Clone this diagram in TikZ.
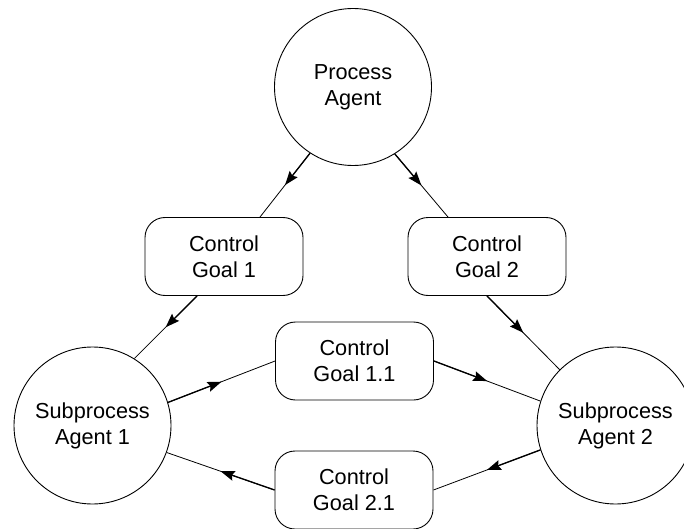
\documentclass[tikz,border=0pt]{standalone}
\usepackage{fontspec}
\setmainfont{Liberation Sans}
\usetikzlibrary{arrows.meta}
\begin{document}
\begin{tikzpicture}[x=1pt,y=-1pt,
  every node/.style={font=\fontsize{21.7}{26}\selectfont, align=center, text=black},
  agent/.style={draw, circle, line width=0.9pt, minimum size=157pt, inner sep=0pt},
  goal/.style={draw, rounded corners=20pt, line width=0.9pt, minimum width=158pt, minimum height=78pt, inner sep=0pt},
  thinlink/.style={draw, line width=0.8pt},
  headlink/.style={draw, line width=1.3pt, -{Stealth[length=14pt,width=10pt,inset=2pt]}}
]
\useasboundingbox (0,0) rectangle (684,529);

% agents
\node[agent] (pa)  at (353,87)    {Process\\Agent};
\node[agent] (sa1) at (92.5,425.5) {Subprocess\\Agent 1};
\node[agent] (sa2) at (615.5,425.5) {Subprocess\\Agent 2};

% control goals
\node[goal] (g1)  at (224,256.5) {Control\\Goal 1};
\node[goal] (g2)  at (487,256.5) {Control\\Goal 2};
\node[goal] (g11) at (354.5,361) {Control\\Goal 1.1};
\node[goal] (g21) at (354,490)   {Control\\Goal 2.1};

% connectors: thin line end to end, heavier first half carrying the arrow head
\draw[thinlink] (pa.237) -- coordinate (m1) ([xshift=36pt]g1.north);
\draw[headlink] (pa.237) -- (m1);

\draw[thinlink] (pa.302.5) -- coordinate (m2) ([xshift=-39pt]g2.north);
\draw[headlink] (pa.302.5) -- (m2);

\draw[thinlink] ([xshift=-27pt]g1.south) -- coordinate (m3) (sa1.58);
\draw[headlink] ([xshift=-27pt]g1.south) -- (m3);

\draw[thinlink] (g2.south) -- coordinate (m4) (sa2.135);
\draw[headlink] (g2.south) -- (m4);

\draw[thinlink] (sa1.17) -- coordinate (m5) (g11.west);
\draw[headlink] (sa1.17) -- (m5);

\draw[thinlink] (g11.east) -- coordinate (m6) (sa2.162.5);
\draw[headlink] (g11.east) -- (m6);

\draw[thinlink] (sa2.198) -- coordinate (m7) (g21.east);
\draw[headlink] (sa2.198) -- (m7);

\draw[thinlink] (g21.west) -- coordinate (m8) (sa1.340.7);
\draw[headlink] (g21.west) -- (m8);
\end{tikzpicture}
\end{document}
